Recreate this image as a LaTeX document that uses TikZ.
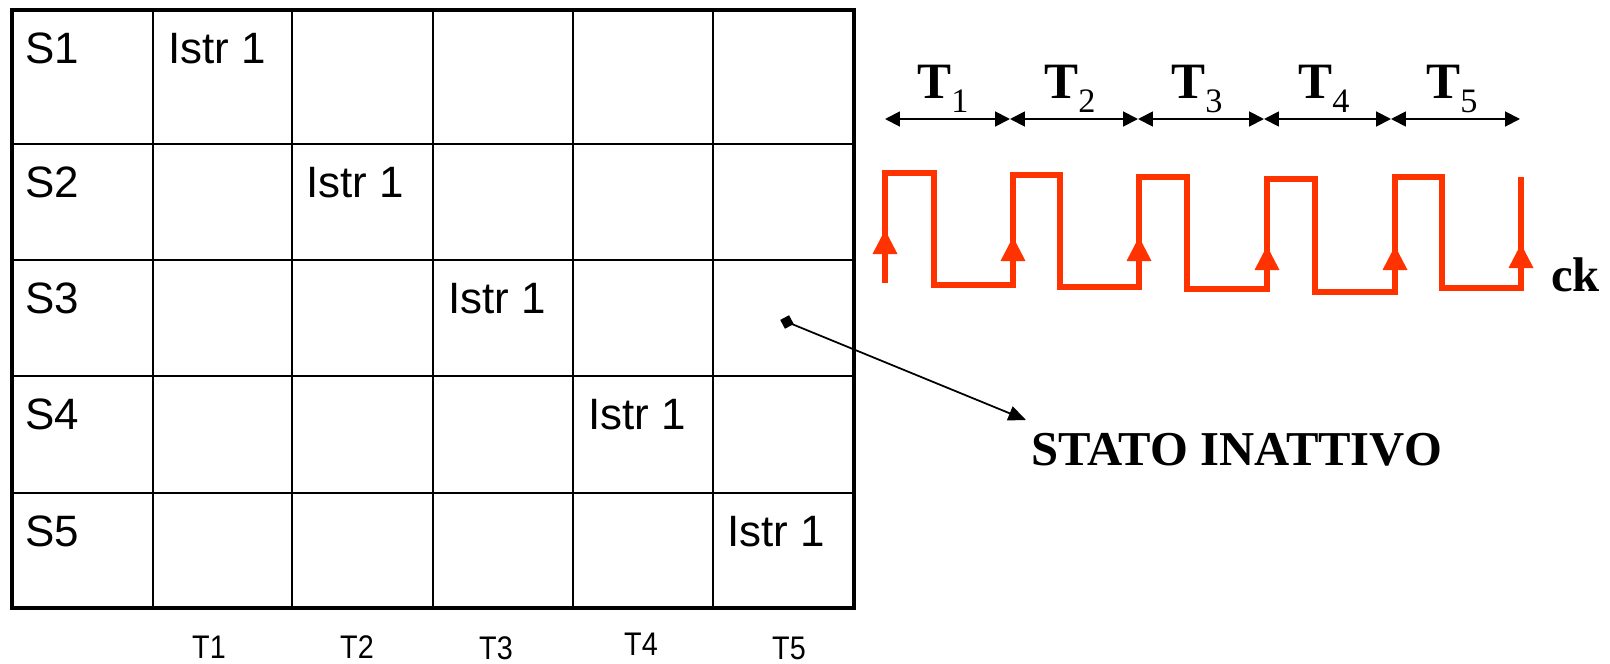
\documentclass[tikz,border=0pt]{standalone}
\usepackage{fontspec}
\setmainfont{Liberation Serif}
\newfontfamily\arialf{Liberation Sans}
\usetikzlibrary{arrows.meta,calc}
\definecolor{clk}{RGB}{255,51,0}
\begin{document}
\begin{tikzpicture}[x=0.02cm,y=-0.02cm,
  cell/.style={anchor=base west,inner sep=0pt,font=\arialf\fontsize{25}{30}\selectfont},
  tlab/.style={anchor=base,inner sep=0pt,font=\arialf\fontsize{18.6}{22}\selectfont},
  big/.style={anchor=base west,inner sep=0pt,font=\bfseries\fontsize{27.7}{32}\selectfont},
  ptlab/.style={anchor=base,inner sep=0pt,font=\fontsize{29}{34}\selectfont},
  per/.style={{Triangle[length=8.5pt,width=8.5pt]}-{Triangle[length=8.5pt,width=8.5pt]},line width=1.1pt},
  gridline/.style={line width=1pt},
  border/.style={line width=1.9pt},
  wave/.style={clk,line width=3.1pt,line join=miter},
  redtip/.style={fill=clk},
  callout/.style={-{Triangle[length=10pt,width=8.5pt]},line width=1pt}
]
\useasboundingbox (0,0) rectangle (1610,663);
\newcommand{\Tsub}[1]{{\bfseries T}\raisebox{-8.5pt}{\fontsize{19.5}{21}\selectfont #1}}
\newcommand{\narrowtxt}[1]{\scalebox{0.88}[1]{#1}}
% grid
\foreach \x in {153,292,433,573,713} \draw[gridline] (\x,10) -- (\x,608);
\foreach \y in {144,260,376,493} \draw[gridline] (12,\y) -- (854,\y);
\draw[border] (12,10) rectangle (854,608);
% row labels
\node[cell] (s1) at (25,63) {S1};
\node[cell] (s2) at (25,197) {S2};
\node[cell] (s3) at (25,313) {S3};
\node[cell] (s4) at (25,429) {S4};
\node[cell] (s5) at (25,546) {S5};
% instructions
\node[cell] (i1) at (168,63) {Istr 1};
\node[cell] (i2) at (306,197) {Istr 1};
\node[cell] (i3) at (448,313) {Istr 1};
\node[cell] (i4) at (588,429) {Istr 1};
\node[cell] (i5) at (727,546) {Istr 1};
% bottom labels
\node[tlab] (b1) at (209,658) {\narrowtxt{T1}};
\node[tlab] (b2) at (357,658) {\narrowtxt{T2}};
\node[tlab] (b3) at (496,659) {\narrowtxt{T3}};
\node[tlab] (b4) at (641,655) {\narrowtxt{T4}};
\node[tlab] (b5) at (789,659) {\narrowtxt{T5}};
% period arrows
\coordinate (p0) at (885,119);
\coordinate (p1) at (1010,119);
\coordinate (p2) at (1138,119);
\coordinate (p3) at (1264,119);
\coordinate (p4) at (1391,119);
\coordinate (p5) at (1520,119);
\draw[per] (p0) -- (p1);
\draw[per] (p1) -- (p2);
\draw[per] (p2) -- (p3);
\draw[per] (p3) -- (p4);
\draw[per] (p4) -- (p5);
\node[ptlab] (T1) at (943,98) {\Tsub{1}};
\node[ptlab] (T2) at (1070,98) {\Tsub{2}};
\node[ptlab] (T3) at (1197,98) {\Tsub{3}};
\node[ptlab] (T4) at (1324,98) {\Tsub{4}};
\node[ptlab] (T5) at (1452,98) {\Tsub{5}};
% clock waveform
\draw[wave] (885,283) -- (885,173) -- (934,173) -- (934,285) -- (1013,285)
  -- (1013,175) -- (1060,175) -- (1060,287) -- (1139,287)
  -- (1139,177) -- (1187,177) -- (1187,289) -- (1267,289)
  -- (1267,179) -- (1315,179) -- (1315,292) -- (1395,292)
  -- (1395,177) -- (1442,177) -- (1442,288) -- (1521,288) -- (1521,177);
\foreach \x/\t in {885/230,1013/237,1139/237,1267/246,1395/246,1521/244}
  \fill[redtip] (\x,\t) -- (\x+12.5,\t+24) -- (\x-12.5,\t+24) -- cycle;
\node[big] (ck) at (1551,291) {ck};
% inactive state callout
\coordinate (sq) at (787,322);
\coordinate (tip) at (1026,420);
\fill[rotate around={28:(sq)}] ($(sq)+(-5,-5)$) rectangle ($(sq)+(5,5)$);
\draw[callout] (sq) -- (tip);
\node[big] (stato) at (1031,465) {STATO INATTIVO};
\end{tikzpicture}
\end{document}
